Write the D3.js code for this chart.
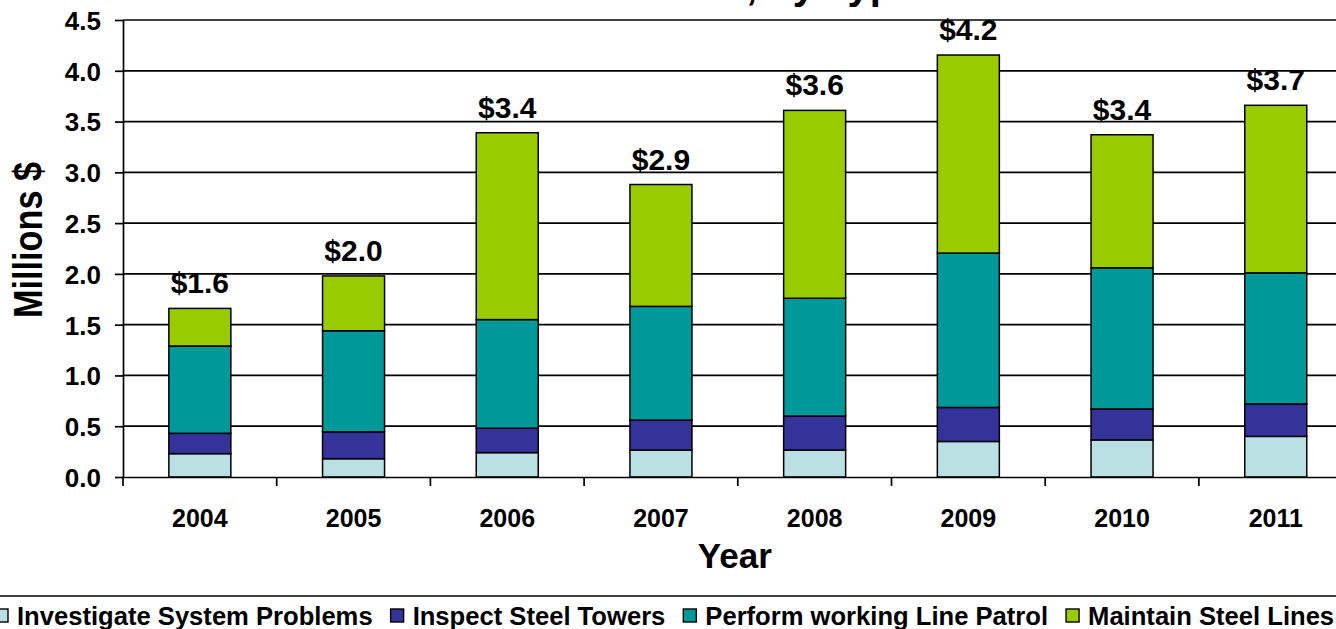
<!DOCTYPE html>
<html>
<head>
<meta charset="utf-8">
<script src="https://cdn.jsdelivr.net/npm/d3@7"></script>
<style>
  html, body { margin: 0; padding: 0; background: #fff; overflow: hidden; }
  svg { display: block; font-family: Arial, "Liberation Sans", sans-serif; font-weight: bold; }
</style>
</head>
<body>
<svg id="chart" width="1336" height="629"></svg>
<script>
const years = ["2004", "2005", "2006", "2007", "2008", "2009", "2010", "2011"];
const seriesNames = ["Investigate System Problems", "Inspect Steel Towers", "Perform working Line Patrol", "Maintain Steel Lines"];
const investigate = [0.23, 0.18, 0.24, 0.265, 0.265, 0.35, 0.365, 0.40];
const inspect     = [0.20, 0.265, 0.24, 0.295, 0.335, 0.335, 0.305, 0.32];
const patrol      = [0.86, 0.995, 1.07, 1.12, 1.16, 1.52, 1.39, 1.29];
const maintain    = [0.37, 0.54, 1.84, 1.20, 1.85, 1.95, 1.31, 1.65];
const totalLabels = ["$1.6", "$2.0", "$3.4", "$2.9", "$3.6", "$4.2", "$3.4", "$3.7"];
const yTicks = [0, 0.5, 1.0, 1.5, 2.0, 2.5, 3.0, 3.5, 4.0, 4.5];
const colors = ["#BBE0E3", "#333399", "#009999", "#99CC00"];
const titleText = "O&M Costs, by Type";

(function () {
const svg = d3.select("#chart");
const mLeft = 123, mTop = 20, mBottom = 477;
const step = 153.7;
const mRight = mLeft + step * years.length;

const x = d3.scaleBand().domain(years).range([mLeft, mRight]).padding(0);
const y = d3.scaleLinear().domain([0, 4.5]).range([mBottom, mTop]);
const barW = 62;

const rows = years.map((yr, i) => ({
  year: yr,
  [seriesNames[0]]: investigate[i],
  [seriesNames[1]]: inspect[i],
  [seriesNames[2]]: patrol[i],
  [seriesNames[3]]: maintain[i]
}));
const stacked = d3.stack().keys(seriesNames)(rows);

// title (mostly clipped above the picture, as in the reference)
const tPrefix = svg.append("text").attr("font-size", 40).attr("x", -2000).attr("y", -1000)
  .style("white-space", "pre").text("O&M Costs, by ");
const prefW = tPrefix.node().getComputedTextLength();
tPrefix.remove();
svg.append("text").attr("x", 826 - prefW).attr("y", -1)
  .attr("font-size", 40).attr("fill", "#000").text(titleText);

// gridlines
svg.append("g").selectAll("line").data(yTicks.filter(d => d > 0)).join("line")
  .attr("x1", mLeft).attr("x2", mRight)
  .attr("y1", d => y(d)).attr("y2", d => y(d))
  .attr("stroke", "#000").attr("stroke-width", 1.7);

// bars
const g = svg.append("g");
stacked.forEach((layer, si) => {
  g.append("g").selectAll("rect").data(layer).join("rect")
    .attr("x", d => x(d.data.year) + x.bandwidth() / 2 - barW / 2)
    .attr("width", barW)
    .attr("y", d => y(d[1]))
    .attr("height", d => y(d[0]) - y(d[1]))
    .attr("fill", colors[si])
    .attr("stroke", "#000").attr("stroke-width", 1.5);
});

// total labels
const totals = years.map((yr, i) => investigate[i] + inspect[i] + patrol[i] + maintain[i]);
svg.append("g").selectAll("text").data(years).join("text")
  .attr("x", d => x(d) + x.bandwidth() / 2)
  .attr("y", (d, i) => y(totals[i]) - 15)
  .attr("text-anchor", "middle").attr("font-size", 30)
  .text((d, i) => totalLabels[i]);

// y axis
const yAxis = d3.axisLeft(y).tickValues(yTicks).tickFormat(d3.format(".1f")).tickSize(8).tickSizeOuter(0);
const ya = svg.append("g").attr("transform", `translate(${mLeft},0)`).call(yAxis);
ya.select(".domain").attr("stroke", "#000").attr("stroke-width", 1.7);
ya.selectAll(".tick line").attr("stroke", "#000").attr("stroke-width", 1.7);
ya.selectAll(".tick text").attr("font-size", 26).attr("font-family", "Arial, 'Liberation Sans', sans-serif")
  .attr("font-weight", "bold").attr("fill", "#000").attr("x", -22).attr("dy", "0.36em");

// x axis
const xAxis = d3.axisBottom(x).tickSize(0).tickSizeOuter(0);
const xa = svg.append("g").attr("transform", `translate(0,${mBottom})`).call(xAxis);
xa.select(".domain").attr("stroke", "#000").attr("stroke-width", 1.7);
xa.selectAll(".tick text").attr("font-size", 25).attr("font-family", "Arial, 'Liberation Sans', sans-serif")
  .attr("font-weight", "bold").attr("fill", "#000").attr("y", 50).attr("dy", 0);
const bounds = years.map(d => x(d)).concat([mRight]);
xa.append("g").selectAll("line").data(bounds).join("line")
  .attr("x1", d => d).attr("x2", d => d).attr("y1", 0).attr("y2", 9)
  .attr("stroke", "#000").attr("stroke-width", 1.7);

// axis titles
svg.append("text").attr("x", (mLeft + mRight) / 2 - 3).attr("y", 568)
  .attr("text-anchor", "middle").attr("font-size", 35).text("Year");
svg.append("text").attr("transform", "translate(42,240) rotate(-90)")
  .attr("text-anchor", "middle").attr("font-size", 41)
  .attr("textLength", 156).attr("lengthAdjust", "spacingAndGlyphs")
  .text("Millions $");

// legend
svg.append("line").attr("x1", -10).attr("x2", 1346).attr("y1", 596).attr("y2", 596)
  .attr("stroke", "#000").attr("stroke-width", 1.7);
const lg = svg.append("g");
let lx = -5;
seriesNames.forEach((name, i) => {
  lg.append("rect").attr("x", lx).attr("y", 609).attr("width", 13).attr("height", 13)
    .attr("fill", colors[i]).attr("stroke", "#000").attr("stroke-width", 1.4);
  const t = lg.append("text").attr("x", lx + 22).attr("y", 625).attr("font-size", 25.6).text(name);
  lx += 22 + t.node().getComputedTextLength() + 18;
});
})();
</script>
</body>
</html>
